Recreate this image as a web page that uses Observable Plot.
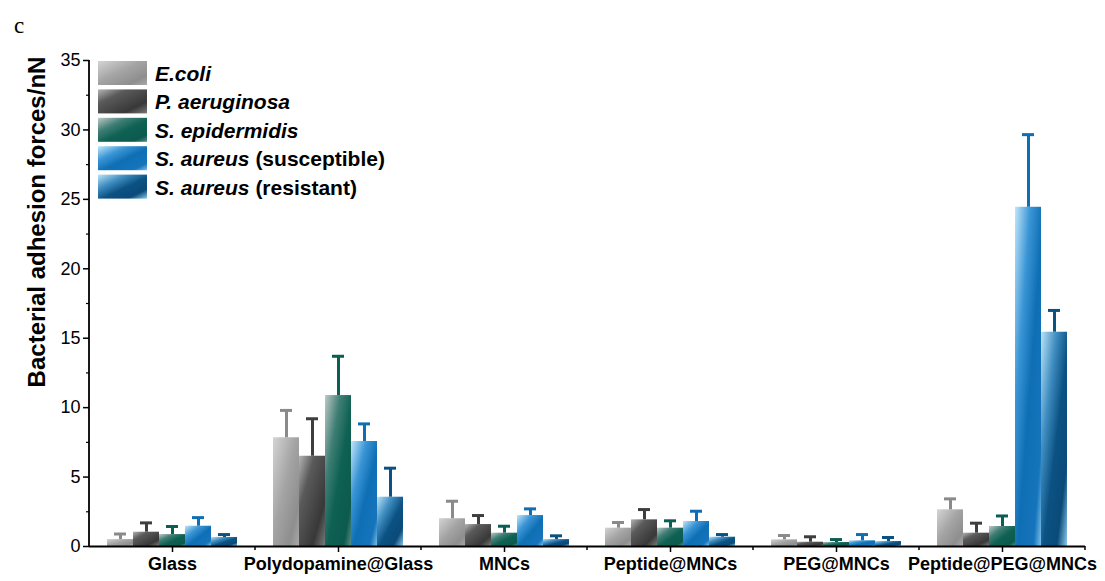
<!DOCTYPE html>
<html><head><meta charset="utf-8">
<script src="https://cdn.jsdelivr.net/npm/d3@7"></script>
<script src="https://cdn.jsdelivr.net/npm/@observablehq/plot@0.6"></script>
<style>body{margin:0;background:#fff} #chart{position:relative;width:1105px;height:581px}</style>
</head><body><div id="chart"></div>
<script>
const groups = ["Glass","Polydopamine@Glass","MNCs","Peptide@MNCs","PEG@MNCs","Peptide@PEG@MNCs"];
const species = ["E.coli","P. aeruginosa","S. epidermidis","S. aureus (susceptible)","S. aureus (resistant)"];
const legendItalic = ["E.coli","P. aeruginosa","S. epidermidis","S. aureus","S. aureus"];
const legendPlain = ["","","", " (susceptible)", " (resistant)"];

const ecoliMean = [0.50, 7.83, 2.00, 1.32, 0.48, 2.64];
const ecoliSD   = [0.40, 1.97, 1.26, 0.41, 0.31, 0.79];
const paerMean  = [1.03, 6.50, 1.58, 1.92, 0.31, 0.96];
const paerSD    = [0.67, 2.70, 0.65, 0.74, 0.39, 0.72];
const sepiMean  = [0.86, 10.87, 0.96, 1.32, 0.29, 1.44];
const sepiSD    = [0.58, 2.83, 0.50, 0.53, 0.21, 0.76];
const sausMean  = [1.46, 7.56, 2.23, 1.80, 0.41, 24.43];
const sausSD    = [0.62, 1.27, 0.48, 0.74, 0.45, 5.23];
const sarsMean  = [0.65, 3.55, 0.50, 0.67, 0.36, 15.43];
const sarsSD    = [0.21, 2.09, 0.27, 0.19, 0.29, 1.57];

const majorTicks = [0,5,10,15,20,25,30,35];
const minorTicks = [2.5,7.5,12.5,17.5,22.5,27.5,32.5];

const errColors = ["#8a8a8a","#3e3e3e","#0b5e54","#0f6eb2","#0b5282"];
const gradStops = [
  [[0,"#d4d4d4"],[0.45,"#a4a4a4"],[0.8,"#8e8e8e"],[1,"#aaaaaa"]],
  [[0,"#b4b4b4"],[0.3,"#5a5a5a"],[0.75,"#383838"],[1,"#7a7a7a"]],
  [[0,"#bfc9c7"],[0.3,"#3f7e74"],[0.55,"#0e6153"],[0.85,"#0c5a4e"],[1,"#5a8c84"]],
  [[0,"#c2e6fa"],[0.3,"#3a95d5"],[0.55,"#0f6fb5"],[0.85,"#1574bb"],[1,"#7cbfe9"]],
  [[0,"#bce4f7"],[0.3,"#3f8dc1"],[0.55,"#0b5283"],[0.8,"#0a4a78"],[1,"#8ccbec"]]
];

const means = [ecoliMean, paerMean, sepiMean, sausMean, sarsMean];
const sds = [ecoliSD, paerSD, sepiSD, sausSD, sarsSD];
const data = groups.flatMap((g, i) => species.map((s, j) => ({group: g, species: s, si: j, value: means[j][i], sd: sds[j][i]})));

const font = "'Liberation Sans', Arial, sans-serif";
const plot = Plot.plot({
  width: 1105, height: 581,
  marginLeft: 88, marginRight: 20, marginTop: 60, marginBottom: 35,
  style: {fontFamily: font, color: "#000", background: "#fff", overflow: "visible"},
  fx: {domain: groups, padding: 0, label: null},
  x: {domain: species, paddingInner: 0, paddingOuter: 0.625, axis: null},
  y: {domain: [0, 35], label: null},
  color: {domain: species, range: species.map((s, i) => `url(#grad${i})`)},
  marks: [
    Plot.barY(data, {fx: "group", x: "species", y: "value", fill: "species", inset: 0}),
    Plot.ruleX(data, {fx: "group", x: "species", y1: "value", y2: d => d.value + d.sd, stroke: d => errColors[d.si], strokeWidth: 3}),
    Plot.tickY(data, {fx: "group", x: "species", y: d => d.value + d.sd, stroke: d => errColors[d.si], strokeWidth: 3, insetLeft: 7, insetRight: 7}),
    Plot.ruleY([0], {stroke: "#000", strokeWidth: 2}),
    Plot.axisY({ticks: majorTicks, tickSize: 6, tickPadding: 3, fontSize: 18, strokeWidth: 1.5, label: null, tickFormat: d => String(d)}),
    Plot.axisY({ticks: minorTicks, tickSize: 3, strokeWidth: 1.2, label: null, tickFormat: () => ""}),
    Plot.axisFx({anchor: "bottom", tickSize: 6, tickPadding: 5, fontSize: 18, fontWeight: "bold", strokeWidth: 1.5, label: null})
  ]
});

document.getElementById("chart").appendChild(plot);
const svg = d3.select(plot);
const defs = svg.insert("defs", ":first-child");
gradStops.forEach((stops, i) => {
  const g = defs.append("linearGradient").attr("id", `grad${i}`).attr("x1", 0).attr("y1", 0).attr("x2", 1).attr("y2", 1);
  stops.forEach(([o, c]) => g.append("stop").attr("offset", o).attr("stop-color", c));
});

const y = plot.scale("y");
const fx = plot.scale("fx");
const x0 = fx.apply(groups[0]);
svg.append("line").attr("x1", x0).attr("x2", x0).attr("y1", y.apply(0) + 1).attr("y2", y.apply(35)).attr("stroke", "#000").attr("stroke-width", 1.8);
const bounds = groups.map(g => fx.apply(g)).concat([fx.apply(groups[groups.length - 1]) + fx.bandwidth]);
bounds.slice(1).forEach(b => svg.append("line").attr("x1", b).attr("x2", b).attr("y1", y.apply(0)).attr("y2", y.apply(0) + 4).attr("stroke", "#000").attr("stroke-width", 1.5));

// y label
svg.append("text").attr("transform", `translate(45,222) rotate(-90)`).attr("text-anchor", "middle")
  .attr("font-family", font).attr("font-size", 24).attr("font-weight", "bold").attr("fill", "#000")
  .text("Bacterial adhesion forces/nN");

// panel letter
svg.append("text").attr("x", 14).attr("y", 33).attr("text-anchor", "start").attr("font-family", "'Liberation Serif', 'Times New Roman', serif").attr("font-size", 23).attr("fill", "#000").text("c");

// legend
const lg = svg.append("g").attr("text-anchor", "start");
species.forEach((s, i) => {
  const top = 61 + i * 28.4;
  lg.append("rect").attr("x", 98).attr("y", top).attr("width", 49).attr("height", 24).attr("fill", `url(#grad${i})`);
  const t = lg.append("text").attr("x", 155).attr("y", top + 20).attr("text-anchor", "start").attr("font-family", font).attr("font-size", 21).attr("font-weight", "bold").attr("fill", "#000");
  t.append("tspan").attr("font-style", "italic").text(legendItalic[i]);
  if (legendPlain[i]) t.append("tspan").text(legendPlain[i]);
});
</script>
</body></html>
